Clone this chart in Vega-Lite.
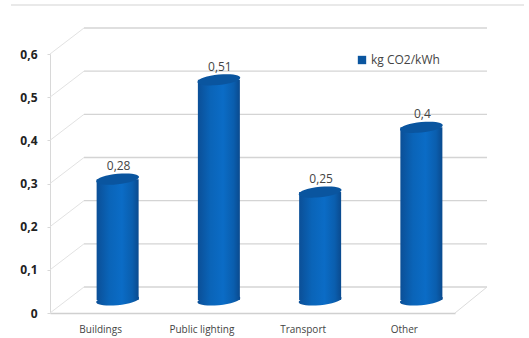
{
  "$schema": "https://vega.github.io/schema/vega-lite/v6.json",
  "width": 405,
  "height": 259,
  "autosize": {"type": "none"},
  "padding": {"left": 50, "top": 54, "right": 74, "bottom": 25},
  "background": "#ffffff",
  "config": {
    "view": {"stroke": null},
    "locale": {"number": {"decimal": ",", "thousands": ".", "grouping": [3], "currency": ["", ""]}}
  },
  "datasets": {
    "levels": [
      {"level": 0}, {"level": 0.1}, {"level": 0.2}, {"level": 0.3},
      {"level": 0.4}, {"level": 0.5}, {"level": 0.6}
    ],
    "bars": [
      {"use": "Buildings", "value": 0.28, "series": "kg CO2/kWh"},
      {"use": "Public lighting", "value": 0.51, "series": "kg CO2/kWh"},
      {"use": "Transport", "value": 0.25, "series": "kg CO2/kWh"},
      {"use": "Other", "value": 0.4, "series": "kg CO2/kWh"}
    ]
  },
  "layer": [
    {
      "data": {"name": "levels"},
      "mark": {"type": "rule", "color": "#d4d4d4", "strokeWidth": 1.3, "yOffset": -26, "y2Offset": -26},
      "encoding": {
        "x": {"value": 34},
        "x2": {"value": 437},
        "y": {
          "field": "level", "type": "quantitative", "scale": {"domain": [0, 0.6]},
          "axis": {
            "title": null, "values": [0, 0.1, 0.2, 0.3, 0.4, 0.5, 0.6], "format": "~g",
            "labelFont": "Open Sans", "labelFontWeight": "bold", "labelFontSize": 12,
            "labelColor": "#222222", "labelPadding": 10, "tickSize": 3, "tickColor": "#d8d8d8",
            "domainColor": "#d8d8d8", "grid": false
          }
        },
        "y2": {"field": "level"}
      }
    },
    {
      "data": {"name": "levels"},
      "mark": {"type": "rule", "color": "#e2e2e2", "strokeWidth": 1, "y2Offset": -26},
      "encoding": {
        "x": {"value": 0},
        "x2": {"value": 34},
        "y": {"field": "level", "type": "quantitative"},
        "y2": {"field": "level"}
      }
    },
    {
      "data": {"values": [{"level": 0}]},
      "mark": {"type": "rule", "color": "#dcdcdc", "strokeWidth": 1, "y2Offset": -26},
      "encoding": {
        "x": {"value": 405},
        "x2": {"value": 437},
        "y": {"field": "level", "type": "quantitative"},
        "y2": {"field": "level"}
      }
    },
    {
      "data": {"values": [{"top": 0}]},
      "mark": {"type": "rule", "color": "#e2e2e2", "strokeWidth": 1.5},
      "encoding": {"x": {"value": -39}, "x2": {"value": 474}, "y": {"value": -49}}
    },
    {
      "data": {"name": "bars"},
      "mark": {
        "type": "bar",
        "width": 42,
        "xOffset": 17,
        "yOffset": -13,
        "y2Offset": -13,
        "color": {
          "gradient": "linear", "x1": 0, "x2": 1, "y1": 0, "y2": 0,
          "stops": [
            {"offset": 0, "color": "#0b4f97"},
            {"offset": 0.3, "color": "#0a64b8"},
            {"offset": 0.6, "color": "#0b6cc6"},
            {"offset": 0.85, "color": "#0a5eae"},
            {"offset": 1, "color": "#0a4a8e"}
          ]
        }
      },
      "encoding": {
        "x": {
          "field": "use", "type": "nominal", "sort": null,
          "scale": {"domain": ["Buildings", "Public lighting", "Transport", "Other"], "paddingInner": 0, "paddingOuter": 0},
          "axis": {
            "title": null, "labelAngle": 0, "labelFont": "Open Sans", "labelFontSize": 10,
            "labelColor": "#444444", "labelPadding": 11, "ticks": false,
            "domainColor": "#d0d0d0", "domainWidth": 1.3, "grid": false
          }
        },
        "y": {"field": "value", "type": "quantitative"},
        "y2": {"datum": 0}
      }
    },
    {
      "data": {"name": "bars"},
      "mark": {
        "type": "point", "filled": true, "opacity": 1, "xOffset": 17, "yOffset": -13, "size": 1764,
        "shape": "M-1,0.05A1,0.24 -6 1,0 1,-0.05A1,0.24 -6 1,0 -1,0.05Z",
        "color": {
          "gradient": "linear", "x1": 0, "x2": 1, "y1": 0, "y2": 0,
          "stops": [
            {"offset": 0, "color": "#0b4f97"},
            {"offset": 0.3, "color": "#0a64b8"},
            {"offset": 0.6, "color": "#0b6cc6"},
            {"offset": 0.85, "color": "#0a5eae"},
            {"offset": 1, "color": "#0a4a8e"}
          ]
        }
      },
      "encoding": {
        "x": {"field": "use", "type": "nominal", "sort": null},
        "y": {"datum": 0, "type": "quantitative"}
      }
    },
    {
      "data": {"name": "bars"},
      "mark": {
        "type": "point", "filled": true, "opacity": 1, "xOffset": 17, "yOffset": -13, "size": 1764,
        "shape": "M-1,0.05A1,0.24 -6 1,1 1,-0.05A1,0.24 -6 1,1 -1,0.05Z"
      },
      "encoding": {
        "x": {"field": "use", "type": "nominal", "sort": null},
        "y": {"field": "value", "type": "quantitative"},
        "color": {
          "field": "series", "type": "nominal",
          "scale": {"range": ["#0a559f"]},
          "legend": {
            "title": null, "orient": "none", "legendX": 306, "legendY": 0,
            "symbolType": "square", "symbolSize": 70, "labelFont": "Open Sans",
            "labelFontSize": 12, "labelColor": "#444444", "labelOffset": 3, "symbolOpacity": 1
          }
        }
      }
    },
    {
      "data": {"name": "bars"},
      "mark": {
        "type": "text", "font": "Open Sans", "fontSize": 12, "color": "#444444",
        "xOffset": 18, "yOffset": -26, "baseline": "middle"
      },
      "encoding": {
        "x": {"field": "use", "type": "nominal", "sort": null},
        "y": {"field": "value", "type": "quantitative"},
        "text": {"field": "value", "type": "quantitative", "format": "~g"}
      }
    }
  ]
}
